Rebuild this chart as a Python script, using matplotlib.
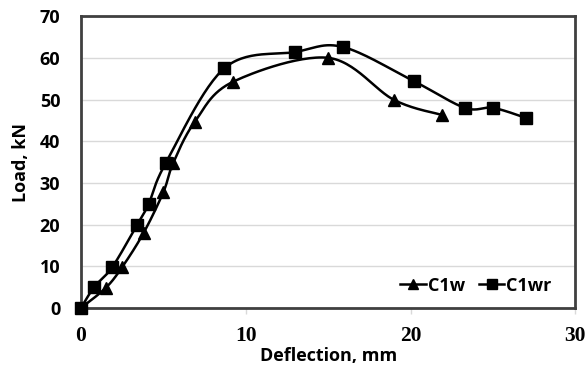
import numpy as np
import matplotlib
matplotlib.use('Agg')
import matplotlib.pyplot as plt
from matplotlib.lines import Line2D

# data
c1w_x = [0, 1.5, 2.5, 3.8, 5.0, 5.6, 6.9, 9.2, 15.0, 19.0, 21.9]
c1w_y = [0, 4.8, 9.8, 18.0, 27.8, 34.8, 44.6, 54.2, 60.0, 49.9, 46.3]
c1wr_x = [0, 0.8, 1.9, 3.4, 4.1, 5.15, 8.7, 13.0, 15.9, 20.2, 23.3, 25.0, 27.0]
c1wr_y = [0, 5.0, 9.8, 19.9, 24.9, 34.8, 57.5, 61.4, 62.6, 54.4, 48.0, 48.0, 45.6]
x_ticks = [0, 10, 20, 30]
y_ticks = [0, 10, 20, 30, 40, 50, 60, 70]


def smooth(xs, ys, n=30):
    # catmull-rom like excel's "smoothed line"
    p = np.column_stack([xs, ys]).astype(float)
    p = np.vstack([p[0], p, p[-1]])
    out = []
    for i in range(1, len(p) - 2):
        p0, p1, p2, p3 = p[i - 1], p[i], p[i + 1], p[i + 2]
        m1 = (p2 - p0) / 2.0
        m2 = (p3 - p1) / 2.0
        t = np.linspace(0, 1, n)[:, None]
        h00 = 2 * t**3 - 3 * t**2 + 1
        h10 = t**3 - 2 * t**2 + t
        h01 = -2 * t**3 + 3 * t**2
        h11 = t**3 - t**2
        out.append(h00 * p1 + h10 * m1 + h01 * p2 + h11 * m2)
    seg = np.vstack(out)
    return seg[:, 0], seg[:, 1]


fig = plt.figure(figsize=(5.87, 3.67), dpi=100)
ax = fig.add_axes([0.138, 0.161, 0.842, 0.795])

sx, sy = smooth(c1w_x, c1w_y)
ax.plot(sx, sy, color='black', lw=1.8, zorder=3)
ax.plot(c1w_x, c1w_y, ls='none', marker='^', ms=9, color='black', zorder=4)

sx, sy = smooth(c1wr_x, c1wr_y)
ax.plot(sx, sy, color='black', lw=1.8, zorder=3)
ax.plot(c1wr_x, c1wr_y, ls='none', marker='s', ms=9, color='black', zorder=4, clip_on=False)

ax.set_xlim(0, 30)
ax.set_ylim(0, 70)
ax.set_xticks(x_ticks)
ax.set_yticks(y_ticks)
ax.grid(axis='y', color='#d9d9d9', lw=1)
ax.set_axisbelow(True)
for s in ax.spines.values():
    s.set_color('#404040')
    s.set_linewidth(2)

ax.tick_params(axis='y', length=0, pad=15, labelsize=13)
ax.tick_params(axis='x', length=4, color='#d9d9d9', width=1, pad=9, labelsize=15.5)
for lab in ax.get_yticklabels():
    lab.set_fontfamily('Open Sans')
    lab.set_fontweight('bold')
for lab in ax.get_xticklabels():
    lab.set_fontfamily('Liberation Serif')
    lab.set_fontweight('bold')

ax.set_xlabel('Deflection, mm', fontfamily='Open Sans', fontweight='bold', fontsize=13, labelpad=1)
ax.set_ylabel('Load, kN', fontfamily='Open Sans', fontweight='bold', fontsize=13, labelpad=7)

handles = [Line2D([], [], color='black', lw=1.8, marker='^', ms=7),
           Line2D([], [], color='black', lw=1.8, marker='s', ms=7)]
ax.legend(handles, ['C1w', 'C1wr'], loc='lower right', ncol=2, frameon=False,
          prop={'family': 'Open Sans', 'weight': 'bold', 'size': 13},
          handlelength=1.4, handletextpad=0.1, columnspacing=0.8,
          bbox_to_anchor=(0.985, -0.01))

fig.savefig('out.png', dpi=100)
